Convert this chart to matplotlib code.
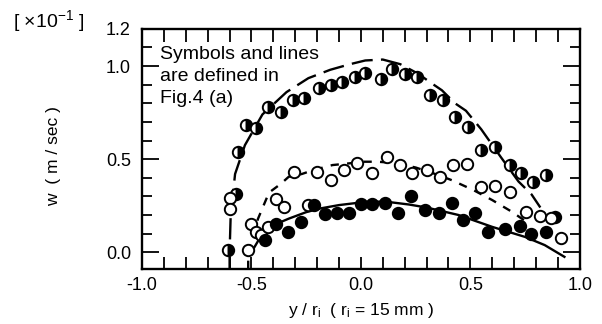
import matplotlib
matplotlib.use('Agg')
import matplotlib.pyplot as plt
from matplotlib.ticker import MultipleLocator, FixedLocator

plt.rcParams['font.family'] = ['Liberation Sans', 'DejaVu Sans']
plt.rcParams['mathtext.fontset'] = 'custom'
plt.rcParams['mathtext.rm'] = 'Liberation Sans'
plt.rcParams['mathtext.it'] = 'Liberation Sans:italic'
plt.rcParams['mathtext.default'] = 'regular'

# half-filled circles (long dashed line)
half_x = [-0.607, -0.57, -0.563, -0.524, -0.479, -0.426, -0.365, -0.312, -0.259, -0.19,
          -0.138, -0.085, -0.028, 0.02, 0.09, 0.142, 0.20, 0.255, 0.317, 0.377,
          0.43, 0.491, 0.551, 0.612, 0.68, 0.733, 0.786, 0.847, 0.885]
half_y = [0.01, 0.315, 0.54, 0.683, 0.665, 0.78, 0.754, 0.82, 0.826, 0.88,
          0.90, 0.916, 0.94, 0.965, 0.928, 0.985, 0.955, 0.94, 0.844, 0.817,
          0.727, 0.674, 0.548, 0.566, 0.468, 0.423, 0.378, 0.414, 0.19]

# open circles (short dashed line)
open_x = [-0.60, -0.60, -0.517, -0.502, -0.479, -0.456, -0.426, -0.388, -0.35, -0.305,
          -0.244, -0.199, -0.138, -0.077, -0.017, 0.052, 0.12, 0.18, 0.233, 0.301,
          0.362, 0.423, 0.483, 0.551, 0.612, 0.68, 0.756, 0.817, 0.87, 0.915]
open_y = [0.29, 0.23, 0.01, 0.154, 0.11, 0.09, 0.136, 0.288, 0.244, 0.43,
          0.253, 0.43, 0.387, 0.44, 0.477, 0.426, 0.512, 0.468, 0.423, 0.441,
          0.405, 0.468, 0.473, 0.351, 0.355, 0.324, 0.217, 0.194, 0.181, 0.074]

# filled circles (solid line)
full_x = [-0.44, -0.388, -0.335, -0.274, -0.214, -0.165, -0.108, -0.055, 0.0, 0.052,
          0.109, 0.17, 0.228, 0.294, 0.355, 0.415, 0.468, 0.521, 0.582, 0.658,
          0.726, 0.779, 0.847]
full_y = [0.065, 0.154, 0.11, 0.163, 0.256, 0.205, 0.21, 0.212, 0.26, 0.258,
          0.262, 0.208, 0.303, 0.229, 0.211, 0.262, 0.172, 0.211, 0.109, 0.127,
          0.14, 0.10, 0.109]

# curves
long_x = [-0.60, -0.60, -0.595, -0.575, -0.53, -0.45, -0.34, -0.24, -0.14, -0.05,
          0.02, 0.10, 0.18, 0.26, 0.32, 0.37, 0.43, 0.48, 0.55, 0.64, 0.72, 0.78, 0.82]
long_y = [-0.09, 0.0, 0.20, 0.42, 0.575, 0.74, 0.86, 0.935, 0.98, 1.01,
          1.03, 1.035, 1.01, 0.96, 0.91, 0.87, 0.80, 0.76, 0.66, 0.51, 0.38, 0.31, 0.24]

short_x = [-0.515, -0.515, -0.50, -0.47, -0.42, -0.365, -0.33, -0.27, -0.22, -0.13,
           -0.055, 0.014, 0.074, 0.15, 0.25, 0.34, 0.415, 0.515, 0.60, 0.69, 0.76]
short_y = [-0.09, 0.0, 0.07, 0.18, 0.32, 0.368, 0.405, 0.42, 0.44, 0.468,
           0.477, 0.486, 0.486, 0.48, 0.455, 0.42, 0.387, 0.333, 0.28, 0.217, 0.16]

solid_x = [-0.50, -0.46, -0.39, -0.33, -0.25, -0.19, -0.10, 0.02, 0.11, 0.22,
           0.30, 0.445, 0.60, 0.75, 0.84, 0.93]
solid_y = [0.0, 0.08, 0.15, 0.18, 0.215, 0.234, 0.253, 0.27, 0.272, 0.256,
           0.24, 0.20, 0.136, 0.082, 0.038, -0.025]

x_ticks = [-1.0, -0.5, 0.0, 0.5, 1.0]
y_ticks = [0.0, 0.5, 1.0, 1.2]

fig = plt.figure(figsize=(6.02, 3.24), dpi=100)
ax = fig.add_axes([0.236, 0.170, 0.727, 0.741])

lw = 1.7
ax.plot(long_x, long_y, color='black', lw=lw, dashes=(9, 3.5), zorder=2)
ax.plot(short_x, short_y, color='black', lw=lw, dashes=(3.5, 3.5), zorder=2)
ax.plot(solid_x, solid_y, color='black', lw=lw, zorder=2)

ms = 8.2
mew = 1.4
ax.plot(half_x, half_y, ls='none', marker='o', ms=ms, mew=mew, fillstyle='right',
        markerfacecolor='black', markerfacecoloralt='white', markeredgecolor='black', zorder=3)
ax.plot(open_x, open_y, ls='none', marker='o', ms=ms, mew=mew,
        markerfacecolor='white', markeredgecolor='black', zorder=3)
ax.plot(full_x, full_y, ls='none', marker='o', ms=ms, mew=mew,
        markerfacecolor='black', markeredgecolor='black', zorder=3)

ax.set_xlim(-1.0, 1.0)
ax.set_ylim(-0.09, 1.2)
ax.xaxis.set_major_locator(FixedLocator(x_ticks))
ax.yaxis.set_major_locator(FixedLocator(y_ticks))
ax.xaxis.set_minor_locator(MultipleLocator(0.1))
ax.yaxis.set_minor_locator(MultipleLocator(0.1))
ax.set_xticklabels(['%.1f' % v for v in x_ticks])
ax.set_yticklabels(['%.1f' % v for v in y_ticks])

ax.tick_params(which='both', direction='in', top=True, right=True, width=1.3, labelsize=13)
ax.tick_params(axis='x', which='major', length=9, pad=6)
ax.tick_params(axis='x', which='minor', length=9)
ax.tick_params(axis='y', which='major', length=12, pad=8)
ax.tick_params(axis='y', which='minor', length=7)
for s in ax.spines.values():
    s.set_linewidth(1.7)

ax.set_xlabel('y / r$_{i}$  ( r$_{i}$ = 15 mm )', fontsize=12.5, labelpad=5)
ax.set_ylabel('w  ( m / sec )', fontsize=12.5)
ax.yaxis.set_label_coords(-0.185, 0.47)

ax.text(0.04, 0.93, 'Symbols and lines\nare defined in\nFig.4 (a)', transform=ax.transAxes,
        fontsize=14, va='top', ha='left', linespacing=1.4)

fig.text(0.022, 0.935, '[ $\\times$10$^{-1}$ ]', fontsize=14, va='center', ha='left')

fig.savefig('out.png', dpi=100)
